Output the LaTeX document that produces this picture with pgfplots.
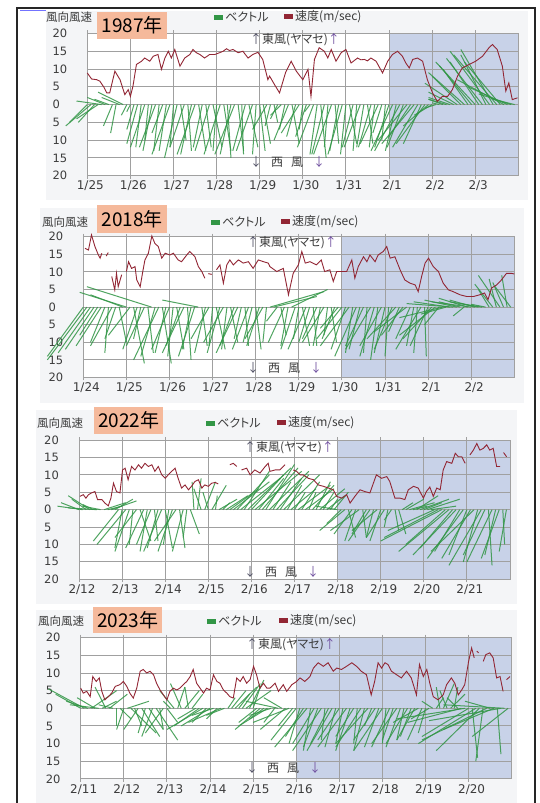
\documentclass[border=0pt]{standalone}
\usepackage{pgfplots}
\pgfplotsset{compat=1.18}
\usepackage{pgfplotstable}
\usepackage{fontspec}
\setmainfont{DejaVu Sans}
\newfontfamily\jp[RawFeature={+palt}]{Noto Sans CJK JP}

\definecolor{shade}{RGB}{200,210,232}
\definecolor{gridgray}{RGB}{160,160,160}
\definecolor{vgreen}{RGB}{50,150,70}
\definecolor{speedred}{RGB}{146,38,52}
\definecolor{panelbg}{RGB}{244,245,247}
\definecolor{yearbox}{RGB}{245,185,155}
\definecolor{labelgray}{RGB}{60,60,60}
\definecolor{arrowdark}{RGB}{80,80,100}
\definecolor{arrowpurple}{RGB}{112,80,160}

% ---------- wind speed (day, m/s) ----------
\pgfplotstableread[row sep=\\]{d s\\0 8.9\\0.1 7.2\\0.22 7.0\\0.29 6.6\\0.38 5.0\\0.45 3.3\\0.52 3.3\\0.64 9.4\\0.76 7.0\\0.87 2.8\\0.95 4.2\\1.0 2.3\\1.06 5.2\\1.14 11.3\\1.26 12.2\\1.33 13.1\\1.45 12.2\\1.53 13.6\\1.64 14.1\\1.72 9.9\\1.8 13.1\\1.88 15.0\\1.95 13.1\\2.03 15.5\\2.15 10.8\\2.26 13.1\\2.38 14.1\\2.45 15.5\\2.53 14.6\\2.61 14.1\\2.72 13.1\\2.84 14.1\\2.96 14.1\\3.07 14.6\\3.15 15.0\\3.23 15.7\\3.30 15.2\\3.38 15.5\\3.5 14.6\\3.61 15.0\\3.73 13.1\\3.84 14.1\\3.96 14.7\\4.07 12.7\\4.19 7.0\\4.23 8.0\\4.35 5.5\\4.46 3.3\\4.6 9.0\\4.73 12.2\\4.85 9.4\\5.0 7.0\\5.12 9.9\\5.19 2.3\\5.27 12.7\\5.38 16.0\\5.5 15.0\\5.58 13.1\\5.66 15.5\\5.77 12.2\\5.89 14.6\\6.0 15.5\\6.12 11.7\\6.27 13.1\\6.35 12.6\\6.43 12.7\\6.5 12.3\\6.58 13.1\\6.7 12.2\\6.85 8.9\\6.97 12.2\\7.08 14.1\\7.2 15.0\\7.31 13.6\\7.39 11.7\\7.47 10.3\\7.55 12.7\\7.66 13.1\\7.78 12.2\\7.89 7.0\\8.01 3.3\\8.12 0.9\\8.24 2.3\\8.36 2.3\\8.47 4.2\\8.59 8.0\\8.7 10.3\\8.86 11.3\\9.01 12.2\\9.17 13.6\\9.32 16.0\\9.4 16.9\\9.51 15.5\\9.63 10.8\\9.71 3.8\\9.78 6.1\\9.86 1.4\\9.98 1.9\\}\spdA

\pgfplotstableread[row sep=\\]{d s\\0.04 16.7\\0.12 16.2\\0.19 20.5\\0.27 17.2\\0.35 14.8\\0.39 13.9\\0.43 15.3\\0.47 nan\\0.53 14.5\\0.58 15.5\\0.62 nan\\0.66 8.7\\0.73 4.9\\0.77 9.6\\0.81 5.8\\0.89 9.2\\0.94 nan\\1.0 10.1\\1.05 12.9\\1.12 11.0\\1.2 11.5\\1.24 7.7\\1.32 5.8\\1.38 10.1\\1.43 13.4\\1.51 15.3\\1.59 20.2\\1.66 18.1\\1.74 17.2\\1.82 13.9\\1.9 15.3\\2.01 14.8\\2.09 15.3\\2.2 13.4\\2.28 12.9\\2.4 14.8\\2.47 15.8\\2.59 14.3\\2.67 11.5\\2.75 10.1\\2.82 8.2\\2.87 nan\\2.9 9.5\\2.98 9.3\\3.03 nan\\3.09 10.6\\3.17 12.0\\3.25 6.8\\3.33 12.0\\3.4 13.4\\3.48 12.0\\3.6 13.4\\3.71 12.5\\3.83 12.9\\3.94 11.0\\4.06 13.4\\4.18 12.9\\4.29 12.5\\4.33 11.5\\4.49 10.1\\4.64 11.0\\4.76 3.5\\4.87 9.6\\4.99 12.0\\5.07 15.8\\5.15 12.5\\5.26 12.9\\5.41 12.0\\5.52 13.4\\5.6 10.1\\5.72 10.6\\5.8 7.3\\5.88 10.1\\5.99 10.1\\6.11 10.1\\6.23 13.4\\6.3 8.2\\6.38 11.5\\6.5 14.3\\6.58 12.9\\6.65 14.8\\6.77 12.9\\6.84 14.8\\6.96 15.8\\7.04 17.2\\7.12 13.9\\7.23 14.3\\7.35 10.6\\7.46 7.7\\7.58 6.8\\7.7 6.3\\7.77 4.4\\7.85 8.7\\7.93 12.5\\8.01 13.9\\8.12 11.5\\8.24 10.1\\8.35 6.8\\8.47 4.9\\8.58 4.4\\8.74 3.5\\8.9 3.0\\9.05 3.0\\9.2 3.5\\9.31 4.0\\9.39 2.1\\9.47 5.4\\9.59 6.3\\9.7 7.7\\9.82 9.6\\9.93 9.6\\10.0 9.4\\}\spdB

\pgfplotstableread[row sep=\\]{d s\\0.02 3.8\\0.1 4.3\\0.16 3.3\\0.22 4.3\\0.29 4.8\\0.37 5.2\\0.43 2.9\\0.53 2.9\\0.6 1.9\\0.68 1.1\\0.74 3.3\\0.8 7.6\\0.87 5.2\\0.95 4.8\\1.01 11.4\\1.07 11.9\\1.14 8.6\\1.22 12.4\\1.3 11.4\\1.38 12.9\\1.45 11.9\\1.53 13.3\\1.61 12.4\\1.69 12.9\\1.76 11.0\\1.84 12.4\\1.92 10.0\\2.0 9.0\\2.07 10.0\\2.15 11.0\\2.23 11.9\\2.3 9.0\\2.38 6.2\\2.46 7.1\\2.54 5.7\\2.61 6.7\\2.69 8.1\\2.77 8.6\\2.85 6.2\\2.92 7.1\\3.0 6.7\\3.08 7.6\\3.16 7.8\\3.23 7.4\\3.3 nan\\3.5 12.9\\3.58 13.3\\3.66 12.4\\3.7 nan\\3.77 11.4\\3.89 11.9\\3.97 10.0\\4.08 11.4\\4.2 10.5\\4.32 12.4\\4.39 13.3\\4.43 11.0\\4.55 11.4\\4.66 11.4\\4.78 12.9\\4.85 nan\\4.97 11.4\\5.05 11.0\\5.13 10.0\\5.2 10.0\\5.32 9.0\\5.44 8.6\\5.55 7.1\\5.67 6.7\\5.79 6.2\\5.9 5.7\\5.98 3.8\\6.1 3.3\\6.21 4.3\\6.29 1.9\\6.4 3.8\\6.52 5.7\\6.63 5.2\\6.75 4.8\\6.83 7.6\\6.9 10.0\\7.02 9.0\\7.14 9.5\\7.21 8.1\\7.33 3.3\\7.45 3.3\\7.56 2.9\\7.64 5.7\\7.76 6.7\\7.87 6.2\\7.99 3.3\\8.06 5.2\\8.14 6.5\\8.22 3.8\\8.3 6.2\\8.38 5.7\\8.45 11.4\\8.53 13.8\\8.65 13.3\\8.73 16.2\\8.8 15.2\\8.88 15.2\\8.96 13.3\\9.01 nan\\9.07 15.7\\9.15 17.1\\9.23 19.0\\9.3 17.1\\9.38 17.6\\9.46 18.6\\9.53 17.1\\9.61 17.6\\9.69 12.4\\9.77 12.4\\9.81 nan\\9.85 16.4\\9.92 15.2\\}\spdC

\pgfplotstableread[row sep=\\]{d s\\0 5.7\\0.06 4.3\\0.14 4.8\\0.22 3.3\\0.28 9.0\\0.36 7.6\\0.43 8.6\\0.49 4.8\\0.56 2.4\\0.64 3.3\\0.72 4.3\\0.8 6.2\\0.91 6.7\\0.99 7.6\\1.07 6.2\\1.14 4.3\\1.22 2.9\\1.3 5.7\\1.38 10.5\\1.45 11.0\\1.53 10.0\\1.61 10.5\\1.69 9.5\\1.76 7.1\\1.84 5.2\\1.92 3.8\\2.0 2.4\\2.07 4.8\\2.15 5.7\\2.23 5.2\\2.3 5.7\\2.38 6.7\\2.46 7.6\\2.54 9.0\\2.61 11.0\\2.69 7.1\\2.77 5.7\\2.85 4.3\\2.92 5.7\\3.0 5.2\\3.08 9.5\\3.16 7.6\\3.23 7.1\\3.31 5.2\\3.39 4.3\\3.46 3.3\\3.54 2.9\\3.62 8.6\\3.7 7.6\\3.77 9.0\\3.85 7.1\\3.93 8.1\\4.01 11.9\\4.08 9.5\\4.16 5.7\\4.24 7.1\\4.32 5.7\\4.39 5.7\\4.51 7.1\\4.59 4.8\\4.7 6.7\\4.78 4.8\\4.9 6.7\\5.01 7.6\\5.09 8.6\\5.2 7.6\\5.32 9.0\\5.4 11.4\\5.51 12.9\\5.63 11.9\\5.74 12.9\\5.86 10.5\\5.94 11.4\\6.05 11.0\\6.17 11.9\\6.29 12.9\\6.4 11.9\\6.51 10.5\\6.63 9.5\\6.74 3.8\\6.82 7.6\\6.9 12.9\\6.98 11.4\\7.06 12.9\\7.13 12.4\\7.21 10.5\\7.33 9.5\\7.44 8.6\\7.56 10.5\\7.67 8.6\\7.79 3.8\\7.86 12.4\\7.95 9.0\\8.03 11.0\\8.1 7.1\\8.18 3.3\\8.29 2.4\\8.41 3.8\\8.49 6.7\\8.6 8.6\\8.68 7.1\\8.76 3.8\\8.84 5.2\\8.91 6.7\\9.0 13.3\\9.07 17.1\\9.13 14.3\\9.16 nan\\9.19 16.2\\9.23 15.7\\9.28 nan\\9.34 13.3\\9.4 15.2\\9.49 15.7\\9.57 14.3\\9.65 8.6\\9.73 9.0\\9.8 4.8\\9.84 nan\\9.88 8.1\\9.96 9.0\\}\spdD

% ---------- wind vectors (hour, horizontal offset in hours, east-west component m/s) ----------
\pgfplotstableread[row sep=\\]{h u v\\0 -10 -5\\2 -14 -6\\4 -9 -5\\6 -12 -4\\8 -14 1\\10 -10 2\\12 -8 1.5\\14 -5 -6\\16 -3 -8\\18 -10 2\\20 -14 3.5\\22 -3 -3\\24 -2 -2\\26 -4 -7\\28 -6 -11\\30 -3 -12\\32 -8 -12\\34 -2 -10\\36 -5 -13\\38 -9 -12\\40 -3 -13\\42 -6 -8\\44 -4 -13\\46 -10 -14\\48 -2 -12\\50 -7 -15\\52 3 -10\\54 -8 -12\\56 2 -13\\58 -6 -14\\60 -10 -14\\62 4 -13\\64 -5 -12\\66 3 -12\\68 -8 -13\\70 5 -12\\72 -2 -13\\74 -9 -14\\76 4 -13\\78 2 -15\\80 -6 -14\\82 -11 -14\\84 3 -13\\86 1 -14\\88 -7 -13\\90 5 -12\\92 -9 -13\\94 -2 -14\\96 3 -13\\98 4 -11\\100 -8 -7\\102 -3 -6\\104 2 -5\\106 -4 -4\\108 -6 -3\\110 -3 -7\\112 -8 -10\\114 4 -11\\116 -5 -9\\118 -10 -8\\120 -2 -7\\122 -6 -9\\124 -3 -2\\126 -9 -12\\128 -4 -14\\130 3 -15\\132 -7 -14\\134 -2 -12\\136 -10 -14\\138 2 -11\\140 -5 -13\\142 -8 -14\\144 -3 -14\\146 4 -11\\148 -6 -12\\150 -2 -13\\152 -9 -12\\154 -4 -12\\156 3 -11\\158 -7 -12\\160 -3 -12\\162 -10 -11\\164 -5 -8\\166 -2 -10\\168 -8 -12\\170 -12 -13\\172 -6 -13\\174 -14 -13\\176 -9 -12\\178 -16 -10\\180 -12 -9\\182 -18 -11\\184 -14 -12\\186 -10 -11\\188 -16 -11\\190 -14 -6\\192 -10 -3\\194 -6 -1\\196 -4 0.5\\198 -8 1.5\\200 -10 1.5\\202 -12 2\\204 -14 3.5\\206 -18 6\\208 -16 8\\210 -20 9\\212 -14 10\\214 -18 11\\216 -22 12\\218 -16 12\\220 -20 13\\222 -14 14\\224 -22 15\\226 -18 15.5\\228 -24 14\\230 -20 12\\232 -26 7\\234 -22 5\\236 -18 3\\238 -12 1.5\\}\vecA

\pgfplotstableread[row sep=\\]{h u v\\0 -20 -14\\2 -22 -15\\4 -18 -13\\6 -16 -12\\8 -10 -8\\10 -14 -11\\12 -8 -10\\14 -2 -13\\16 -12 -11\\18 -6 -9\\20 4 -10\\22 -18 3.5\\24 -26 4.2\\26 -12 -8\\28 6 -16\\30 -8 -12\\32 -4 -9\\34 -10 -11\\36 3 -13\\38 -36 5.8\\40 -8 -14\\42 -14 -15\\44 5 -16\\46 -6 -13\\48 -10 -12\\50 -3 -14\\52 4 -12\\54 -8 -11\\56 -12 -13\\58 2 -15\\60 -5 -12\\62 -9 -14\\64 -20 2\\66 3 -11\\68 -6 -13\\70 -10 -9\\72 -2 -11\\74 5 -12\\76 -7 -13\\78 -11 -10\\80 -3 -12\\82 4 -10\\84 -8 -11\\86 -12 -13\\88 -4 -9\\90 2 -11\\92 -9 -12\\94 -5 -10\\96 3 -12\\98 -7 -11\\100 -10 -9\\102 -2 -10\\104 30 4.4\\106 24 3\\108 -6 -4\\110 3 -8\\112 -9 -10\\114 -4 -11\\116 20 5\\118 -8 -12\\120 -3 -9\\122 4 -11\\124 -10 -12\\126 -6 -10\\128 2 -11\\130 -8 -9\\132 -4 -11\\134 -12 -10\\136 -2 -8\\138 3 -10\\140 -7 -9\\142 -10 -6\\144 -14 -9\\146 -8 -12\\148 -16 -11\\150 -4 -13\\152 -12 -14\\154 -6 -12\\156 -10 -11\\158 -2 -13\\160 -14 -12\\162 -8 -14\\164 -4 -15\\166 -12 -11\\168 -6 -13\\170 -2 -14\\172 -10 -12\\174 -16 -9\\176 -6 -7\\178 -12 -8\\180 -18 -7\\182 -8 -9\\184 -4 -11\\186 -2 -13\\188 -14 -12\\190 1 -14\\192 -10 -11\\194 -16 -9\\196 -20 -8\\198 -8 -5\\200 -24 -3\\202 -14 -2\\204 -20 1.5\\206 -26 1\\208 -18 2\\210 -12 1.5\\212 -6 -2.5\\214 -16 2.5\\216 -22 1.5\\218 -14 2\\220 -10 1\\222 -18 1.5\\224 -8 0.8\\226 -6 5\\228 -10 6.5\\230 -4 8\\232 -12 9\\234 -6 7\\236 -3 9\\238 -9 6\\}\vecB

\pgfplotstableread[row sep=\\]{h u v\\0 -10 2\\2 -14 1\\4 -8 3\\6 -12 4\\8 -6 1.5\\10 -16 0.5\\12 -10 1\\14 12 2\\16 8 1\\18 14 2.5\\20 10 3\\22 -14 -9\\24 -4 -11\\26 -16 -10\\28 -8 -12\\30 -2 -10\\32 -12 -8\\34 6 -9\\36 -10 -11\\38 -4 -12\\40 -8 -10\\42 2 -9\\44 -6 -11\\46 -10 -12\\48 4 -11\\50 -3 -10\\52 -8 -12\\54 -12 -9\\56 3 -11\\58 -6 -12\\60 -2 -8\\62 5 -7\\64 -1 8\\66 2 9\\68 -4 6\\70 6 8\\72 -3 5\\74 8 7\\76 1 4\\78 10 3\\80 4 2\\82 12 4\\84 16 6\\86 20 8\\88 18 10\\90 22 9\\92 14 11\\94 24 12\\96 18 10\\98 26 11\\100 14 9\\102 20 12\\104 16 13\\106 22 11\\108 10 8\\110 18 10\\112 12 9\\114 20 10\\116 8 7\\118 14 6\\120 6 5\\122 18 7\\124 10 8\\126 16 6\\128 4 5\\130 12 7\\132 8 8\\134 14 6\\136 6 5\\138 10 4\\140 4 3\\142 8 5\\144 -12 1\\146 -8 -4\\148 -14 -6\\150 4 -8\\152 -10 -7\\154 -6 -9\\156 -16 -6\\158 2 -8\\160 -8 -7\\162 -12 -9\\164 -4 -8\\166 -14 -6\\168 -6 -9\\170 -10 -8\\172 -2 -5\\174 -4 -3\\176 2 -6\\178 4 -7\\180 6 2\\182 10 3\\184 14 2\\186 8 1\\188 12 4\\190 16 3\\192 10 2\\194 18 3\\196 14 1\\198 -26 -6\\200 -30 -8\\202 -34 -9\\204 -22 -10\\206 -28 -12\\208 -18 -11\\210 -24 -13\\212 -14 -12\\214 -20 -14\\216 -10 -13\\218 -16 -14\\220 -24 -12\\222 -8 -15\\224 -18 -16\\226 -12 -13\\228 2 -16\\230 -14 -15\\232 -6 -13\\234 -10 -14\\236 1 -10\\238 -4 -12\\}\vecC

\pgfplotstableread[row sep=\\]{h u v\\0 -14 4\\2 -20 5.5\\4 -12 2\\6 14 5\\8 -10 3\\10 -16 1\\12 8 2\\14 -6 6\\16 10 4\\18 -8 1\\20 0 -5\\22 6 -3\\24 -4 -6\\26 12 2\\28 14 -7\\30 4 -5\\32 -8 -6\\34 10 -8\\36 -4 -7\\38 8 -6\\40 -6 -8\\42 12 -9\\44 2 -6\\46 -10 -7\\48 6 -4\\50 -4 2\\52 -8 5\\54 4 6\\56 -6 7\\58 8 5\\60 -2 6\\62 6 4\\64 -10 -3\\66 -14 -5\\68 -20 -6\\70 -8 -4\\72 -16 -5\\74 -12 -2\\76 -6 -3\\78 -18 -4\\80 -10 -2\\82 4 3\\84 8 5\\86 12 6\\88 6 4\\90 10 7\\92 14 5\\94 8 8\\96 4 6\\98 -10 -4\\100 -14 -6\\102 -8 -3\\104 -16 -5\\106 -12 -2\\108 -6 -4\\110 -18 2\\112 -10 3\\114 -14 -6\\116 -20 -4\\118 -8 -5\\120 -14 -9\\122 -6 -10\\124 -10 -8\\126 -18 -11\\128 -4 -12\\130 -12 -10\\132 -8 -11\\134 -16 -12\\136 -2 -9\\138 -10 -10\\140 -14 -12\\142 -6 -11\\144 -12 -9\\146 -4 -10\\148 -16 -11\\150 -8 -12\\152 -10 -8\\154 -2 -10\\156 -14 -11\\158 -6 -12\\160 -18 -10\\162 -4 -5\\164 -12 -9\\166 -8 -11\\168 -16 -12\\170 -2 -10\\172 -10 -11\\174 -6 -9\\176 -14 -10\\178 -8 -11\\180 -4 -9\\182 -12 -10\\184 -6 -8\\186 -10 -9\\188 -14 -4\\190 -8 -9\\192 -4 -7\\194 -10 -3\\196 -6 2\\198 4 3\\200 -2 6\\202 6 7\\204 -4 5\\206 8 4\\208 2 6\\210 -6 3\\212 -30 -4\\214 -38 -3\\216 -26 -8\\218 3 -14\\220 -32 -10\\222 -24 -12\\224 -4 -15\\226 -36 -9\\228 -14 2\\230 -28 -6\\232 2 -13\\234 -40 -3.5\\236 -34 1\\238 -20 -8\\}\vecD

\pgfplotsset{
  panelbox/.style={
    scale only axis, width=431pt,
    xmin=0, xmax=10, ymin=-20, ymax=20, clip=false,
  },
  windpanel/.style={
    panelbox,
    xtick={0,...,9}, ytick={-20,-15,...,20},
    yticklabels={20,15,10,5,0,5,10,15,20},
    grid=major, major grid style={gridgray, line width=0.9pt},
    axis line style={gridgray, line width=0.9pt},
    xtick style={gridgray, line width=0.9pt}, ytick style={draw=none},
    major tick length=3pt, tick align=outside,
    x tick label style={font=\fontsize{12}{12}\selectfont, text=labelgray, inner sep=0pt, yshift=-2pt, xshift=3pt},
    y tick label style={font=\fontsize{11.5}{12}\selectfont, text=labelgray, anchor=west, inner sep=0pt, xshift=-32pt},
  },
  vec/.style={vgreen, draw opacity=0.85, line width=1pt, -},
}

% one panel: x, y of lower-left plot corner, plot height, date labels, start of shading, vectors, speed
\newcommand{\windpanel}[7]{%
\begin{axis}[panelbox, hide axis, at={(#1pt,#2pt)}, anchor=south west, height=#3pt]
  \addplot[fill=white, draw=none] coordinates {(0,-20) (10,-20) (10,20) (0,20) (0,-20)};
  \addplot[fill=shade, draw=none] coordinates {(#5,-20) (10,-20) (10,20) (#5,20) (#5,-20)};
\end{axis}
\begin{axis}[windpanel, at={(#1pt,#2pt)}, anchor=south west, height=#3pt, xticklabels={#4}]
  \addplot[vec, quiver={u=\thisrow{u}/24, v=\thisrow{v}}] table[x expr=\thisrow{h}/24, y expr=0] {#6};
  \addplot[speedred, line width=0.9pt, unbounded coords=jump] table[x=d, y=s] {#7};
\end{axis}}

\newcommand{\jpsize}{\jp\fontsize{12}{14}\selectfont}
\newcommand{\legbox}[1]{\textcolor{#1}{\rule[1.8pt]{9pt}{5pt}}\hspace{2pt}}
\newcommand{\eastlabel}{\textcolor{arrowdark}{↑}東風(ヤマセ)\textcolor{arrowpurple}{↑}}
\newcommand{\westlabel}{\textcolor{arrowdark}{↓}\hspace{9pt}西\hspace{8pt}風\hspace{10pt}\textcolor{arrowpurple}{↓}}

\begin{document}
\begin{tikzpicture}[x=1pt, y=1pt]
  \path[use as bounding box] (0,0) rectangle (539,803);
  % panel backgrounds
  \fill[panelbg] (46,603) rectangle (528,792);
  \fill[panelbg] (40,400) rectangle (524,595);
  \fill[panelbg] (36,199) rectangle (517,393);
  \fill[panelbg] (36,0) rectangle (517,193);
  % outer frame
  \draw[line width=2.5pt, black!85] (17,-2) -- (17,795) -- (535,795) -- (535,-2);
  \draw[line width=1pt, blue!55] (20,792.5) -- (46,792.5);

  \windpanel{87.3}{627.3}{142.2}{1/25,1/26,1/27,1/28,1/29,1/30,1/31,2/1,2/2,2/3}{7}{\vecA}{\spdA}
  \windpanel{83.3}{425.5}{140.8}{1/24,1/25,1/26,1/27,1/28,1/29,1/30,1/31,2/1,2/2}{6}{\vecB}{\spdB}
  \windpanel{79}{223.7}{139.3}{2/12,2/13,2/14,2/15,2/16,2/17,2/18,2/19,2/20,2/21}{6}{\vecC}{\spdC}
  \windpanel{80.7}{24.1}{141.2}{2/11,2/12,2/13,2/14,2/15,2/16,2/17,2/18,2/19,2/20}{5}{\vecD}{\spdD}

  % headings, year tags, legends and direction notes
  \foreach \hx/\hy/\bx/\by/\bw/\bh/\gx/\rx/\ex/\ey/\wy/\yr in {
      46/786/97/791/70/27/214/284/250/763/641/1987,
      42/581/97/598/70/28/211/281/247/560/435/2018,
      37/380/94/396/69/27/206/277/244/355/231/2022,
      38/182/93/196/69/26/207/279/246/158/35/2023}{
    \node[anchor=west, inner sep=0pt, text=labelgray, font=\jp\fontsize{11.5}{13}\selectfont] at (\hx,\hy) {風向風速};
    \node[anchor=north west, fill=yearbox, minimum width=\bw pt, minimum height=\bh pt, inner sep=0pt,
          font=\jp\fontsize{19}{21}\selectfont] at (\bx,\by) {\yr 年};
    \node[anchor=west, inner sep=0pt, text=labelgray, font=\jpsize] at (\gx,\hy) {\legbox{vgreen}ベクトル};
    \node[anchor=west, inner sep=0pt, text=labelgray, font=\jpsize] at (\rx,\hy) {\legbox{speedred}速度(m/sec)};
    \node[anchor=west, inner sep=0pt, text=labelgray, font=\jpsize] at (\ex,\ey) {\eastlabel};
    \node[anchor=west, inner sep=0pt, text=labelgray, font=\jpsize] at (\ex,\wy) {\westlabel};
  }
\end{tikzpicture}
\end{document}
